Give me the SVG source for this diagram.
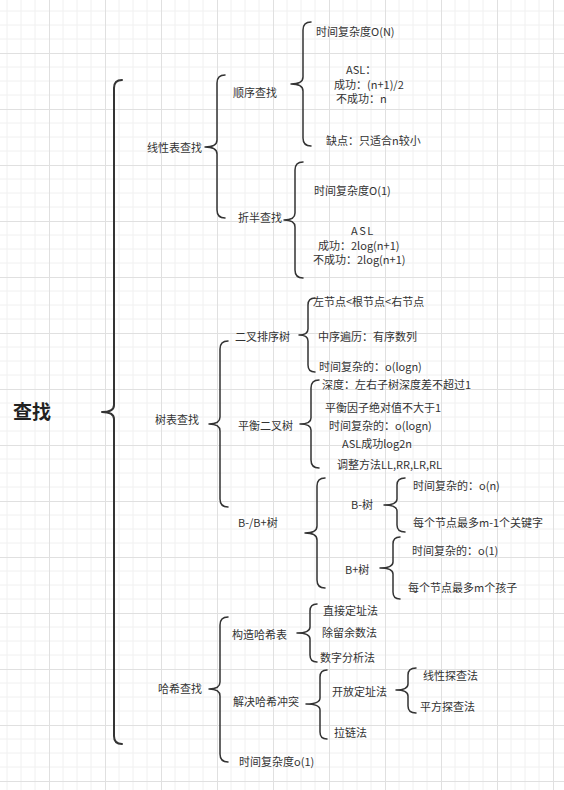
<svg xmlns="http://www.w3.org/2000/svg" width="564" height="790" viewBox="0 0 564 790">
<defs>
<pattern id="grid" x="49" y="53" width="56" height="56" patternUnits="userSpaceOnUse">
<path d="M14 0V56M28 0V56M42 0V56M0 14H56M0 28H56M0 42H56" stroke="#f0f0f0" stroke-width="1" fill="none"/>
<path d="M0.5 0V56M0 0.5H56" stroke="#e0e0e0" stroke-width="1" fill="none"/>
</pattern>
<style>
text{font-family:"Noto Sans CJK SC","Noto Sans",sans-serif;font-size:11px;fill:#333;dominant-baseline:central}
.title{font-size:19px;font-weight:bold;fill:#222}
.br{fill:none;stroke:#333;stroke-width:1.5;stroke-linecap:round;stroke-linejoin:round}
.big{stroke-width:2}
</style>
</defs>
<rect width="564" height="790" fill="#fff"/>
<rect width="564" height="790" fill="url(#grid)"/>
<g id="connectors">
<path class="br big" d="M 122 80 Q 114 80 114 88 L 114 405 Q 114 412 102 412 Q 114 412 114 419 L 114 736 Q 114 744 122 744"/>
<path class="br" d="M 225 75 Q 217 75 217 83 L 217 140 Q 217 147 205 147 Q 217 147 217 154 L 217 210 Q 217 218 225 218"/>
<path class="br" d="M 311 22 Q 303 22 303 30 L 303 77 Q 303 84 291 84 Q 303 84 303 91 L 303 138 Q 303 146 311 146"/>
<path class="br" d="M 303 162 Q 295 162 295 170 L 295 213 Q 295 220 284 220 Q 295 220 295 227 L 295 270 Q 295 278 303 278"/>
<path class="br" d="M 228 341 Q 220 341 220 349 L 220 417 Q 220 424 209 424 Q 220 424 220 431 L 220 499 Q 220 507 228 507"/>
<path class="br" d="M 315 298 Q 308 298 308 305 L 308 329 Q 308 335 299 335 Q 308 335 308 341 L 308 365 Q 308 372 315 372"/>
<path class="br" d="M 319 380 Q 311 380 311 388 L 311 418 Q 311 424 300 424 Q 311 424 311 430 L 311 460 Q 311 468 319 468"/>
<path class="br" d="M 325 478 Q 317 478 317 486 L 317 526 Q 317 533 305 533 Q 317 533 317 540 L 317 580 Q 317 588 325 588"/>
<path class="br" d="M 405 478 Q 397 478 397 485 L 397 499 Q 397 505 384 505 Q 397 505 397 511 L 397 525 Q 397 532 405 532"/>
<path class="br" d="M 400 537 Q 393 537 393 544 L 393 562 Q 393 568 380 568 Q 393 568 393 574 L 393 592 Q 393 599 400 599"/>
<path class="br" d="M 228 617 Q 220 617 220 625 L 220 682 Q 220 689 209 689 Q 220 689 220 696 L 220 754 Q 220 762 228 762"/>
<path class="br" d="M 317 604 Q 310 604 310 611 L 310 627 Q 310 633 297 633 Q 310 633 310 639 L 310 655 Q 310 662 317 662"/>
<path class="br" d="M 327 670 Q 320 670 320 677 L 320 698 Q 320 704 306 704 Q 320 704 320 710 L 320 732 Q 320 739 327 739"/>
<path class="br" d="M 416 668 Q 408 668 408 675 L 408 684 Q 408 690 396 690 Q 408 690 408 696 L 408 706 Q 408 713 416 713"/>
</g>
<g id="root"><text class="title" x="13" y="410">查找</text></g>
<g id="linear"><text x="147" y="147">线性表查找</text></g>
<g id="seq"><text x="233" y="92">顺序查找</text></g>
<g id="seq-time"><text x="316" y="31">时间复杂度O(N)</text></g>
<g id="seq-asl">
<text><tspan x="346" y="69">ASL：</tspan><tspan x="334" y="84">成功：(n+1)/2</tspan><tspan x="336" y="98">不成功：n</tspan></text>
</g>
<g id="seq-weak"><text x="326" y="140">缺点：只适合n较小</text></g>
<g id="bin"><text x="238" y="217">折半查找</text></g>
<g id="bin-time"><text x="314" y="190">时间复杂度O(1)</text></g>
<g id="bin-asl">
<text><tspan x="351" y="230" letter-spacing="1.5">ASL</tspan><tspan x="318" y="245">成功：2log(n+1)</tspan><tspan x="313" y="259">不成功：2log(n+1)</tspan></text>
</g>
<g id="tree"><text x="155" y="419">树表查找</text></g>
<g id="bst"><text x="235" y="336">二叉排序树</text></g>
<g id="bst-1"><text x="313" y="301">左节点&lt;根节点&lt;右节点</text></g>
<g id="bst-2"><text x="318" y="336">中序遍历：有序数列</text></g>
<g id="bst-3"><text x="319" y="366">时间复杂的：o(logn)</text></g>
<g id="avl"><text x="238" y="425">平衡二叉树</text></g>
<g id="avl-1"><text x="322" y="384">深度：左右子树深度差不超过1</text></g>
<g id="avl-2"><text x="325" y="407">平衡因子绝对值不大于1</text></g>
<g id="avl-3"><text x="329" y="425">时间复杂的：o(logn)</text></g>
<g id="avl-4"><text x="342" y="443">ASL成功log2n</text></g>
<g id="avl-5"><text x="337" y="464">调整方法LL,RR,LR,RL</text></g>
<g id="btree"><text x="238" y="522">B-/B+树</text></g>
<g id="bminus"><text x="351" y="504">B-树</text></g>
<g id="bminus-1"><text x="413" y="485">时间复杂的：o(n)</text></g>
<g id="bminus-2"><text x="413" y="522">每个节点最多m-1个关键字</text></g>
<g id="bplus"><text x="345" y="569">B+树</text></g>
<g id="bplus-1"><text x="412" y="550">时间复杂的：o(1)</text></g>
<g id="bplus-2"><text x="408" y="587">每个节点最多m个孩子</text></g>
<g id="hash"><text x="158" y="688">哈希查找</text></g>
<g id="hash-build"><text x="232" y="634">构造哈希表</text></g>
<g id="hb-1"><text x="323" y="610">直接定址法</text></g>
<g id="hb-2"><text x="322" y="632">除留余数法</text></g>
<g id="hb-3"><text x="320" y="657">数字分析法</text></g>
<g id="hash-conf"><text x="233" y="701">解决哈希冲突</text></g>
<g id="open"><text x="332" y="691">开放定址法</text></g>
<g id="open-1"><text x="423" y="675">线性探查法</text></g>
<g id="open-2"><text x="420" y="706">平方探查法</text></g>
<g id="chain"><text x="334" y="732">拉链法</text></g>
<g id="hash-time"><text x="239" y="761">时间复杂度o(1)</text></g>
</svg>
